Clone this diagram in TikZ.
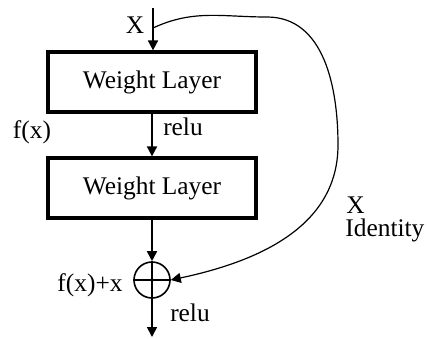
\documentclass[tikz,border=0pt]{standalone}
\usepackage{fontspec}
\setmainfont{Liberation Serif}
\usetikzlibrary{arrows.meta}
\begin{document}
\begin{tikzpicture}[x=0.5pt,y=-0.5pt,
  font=\fontsize{12.7}{15}\selectfont,
  layer/.style={draw, line width=1.6pt, minimum width=104pt, minimum height=30pt, inner sep=0pt},
  sumnode/.style={draw, circle, line width=0.8pt, minimum size=18pt, inner sep=0pt},
  flow/.style={line width=0.85pt, -{Triangle[length=5pt,width=5pt]}},
  lbl/.style={inner sep=0pt}]
\useasboundingbox (0,0) rectangle (428,338);
\node[layer] (w1) at (152,82) {Weight Layer};
\node[layer] (w2) at (152,188) {Weight Layer};
\node[sumnode] (sum) at (152,280) {};
\draw[line width=0.8pt] (sum.north) -- (sum.south) (sum.west) -- (sum.east);
\coordinate (in) at (153,8);
\coordinate (out) at (152,337);
\coordinate (branch) at (153,28);
\draw[flow] (in) -- (in |- w1.north);
\draw[flow] (w1.south -| 152,0) -- (w2.north -| 152,0);
\draw[flow] (w2.south -| 152,0) -- (sum.north);
\draw[flow] (sum.south) -- (out);
\draw[line width=0.6pt, -{Triangle[length=5pt,width=5pt]}] (branch) to[out=25,in=180] (267,17) to[out=0,in=90] (338,145) to[out=-90,in=12] (sum.east);
\node[lbl] (lx) at (135,25) {X};
\node[lbl] (lfx) at (32,132) {f(x)};
\node[lbl] (lr1) at (183,127) {relu};
\node[lbl] (lsum) at (90,285) {f(x)+x};
\node[lbl] (lr2) at (190,313) {relu};
\node[lbl, anchor=west] (lx2) at (346,205) {X};
\node[lbl, anchor=west] (lid) at (345,230) {Identity};
\end{tikzpicture}
\end{document}
